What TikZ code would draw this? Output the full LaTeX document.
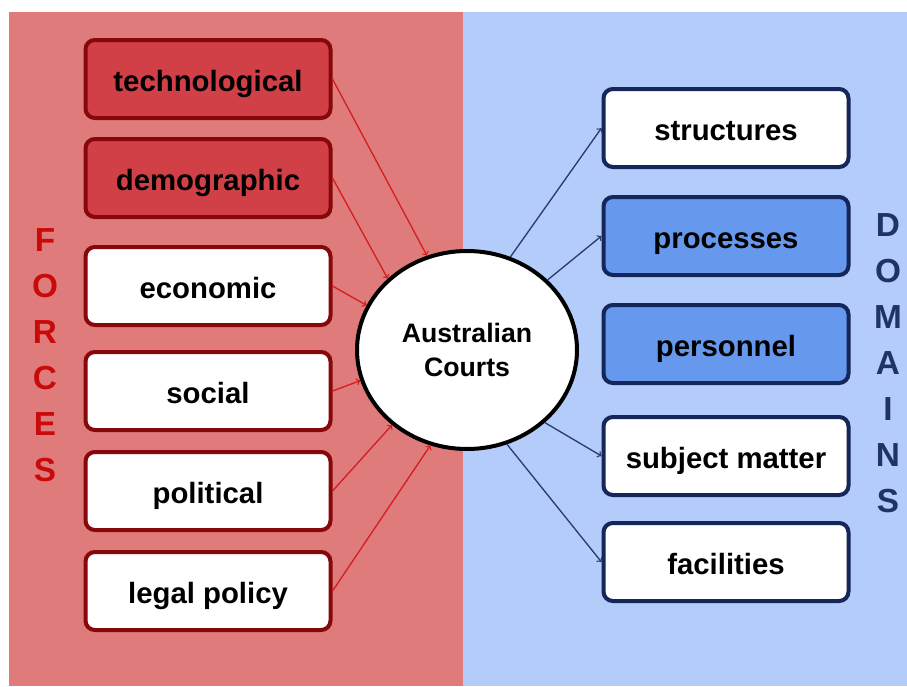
\documentclass[tikz,border=0pt]{standalone}
\usepackage{fontspec}
\setmainfont{Liberation Sans}
\usepackage{tikz}
\usetikzlibrary{shapes.geometric}
\usetikzlibrary{arrows,positioning}
\definecolor{forcebg}{RGB}{224,123,123}
\definecolor{forcefill}{RGB}{208,64,70}
\definecolor{forceline}{RGB}{135,8,10}
\definecolor{forcearrow}{RGB}{212,30,32}
\definecolor{forcetext}{RGB}{200,10,10}
\definecolor{domainbg}{RGB}{180,204,250}
\definecolor{domainfill}{RGB}{102,153,238}
\definecolor{domainline}{RGB}{20,38,90}
\definecolor{domainarrow}{RGB}{40,60,112}
\definecolor{domaintext}{RGB}{31,52,100}

\begin{document}
\begin{tikzpicture}[-,auto,x=0.75pt,y=-0.75pt]
\tikzstyle{factor}=[rectangle,rounded corners=7pt,draw=forceline,line width=3pt,fill=white,minimum width=183.75pt,minimum height=58.5pt,inner sep=0pt,text height=19pt,text depth=0pt,font=\fontsize{22}{26}\selectfont\bfseries]
\tikzstyle{area}=[factor,draw=domainline]
\tikzstyle{force}=[->,draw=forcearrow,line width=1pt]
\tikzstyle{reach}=[->,draw=domainarrow,line width=1pt]

\useasboundingbox (0,0) rectangle (907,686);
\fill [forcebg] (9,12) rectangle (463,686);
\fill [domainbg] (463,12) rectangle (907,686);

\node [ellipse,draw=black,line width=3pt,fill=white,minimum width=165pt,minimum height=148.5pt,inner sep=0pt,align=center,font=\fontsize{20}{25}\selectfont\bfseries] (court) at(467,350) {Australian\\Courts};

\node [factor] (tech) at(208,79)[fill=forcefill] {technological};
\node [factor] (demo) at(208,178)[fill=forcefill] {demographic};
\node [factor] (econ) at(208,286) {economic};
\node [factor] (soc) at(208,391) {social};
\node [factor] (pol) at(208,491) {political};
\node [factor] (legal) at(208,591) {legal policy};

\node [area] (struct) at(726,128) {structures};
\node [area] (proc) at(726,236)[fill=domainfill] {processes};
\node [area] (pers) at(726,344)[fill=domainfill] {personnel};
\node [area] (subj) at(726,456) {subject matter};
\node [area] (fac) at(726,562) {facilities};

\node [align=center,text=forcetext,font=\fontsize{25}{34.5}\selectfont\bfseries] (forces) at(45,355) {F\\O\\R\\C\\E\\S};
\node [align=center,text=domaintext,font=\fontsize{25}{34.5}\selectfont\bfseries] (domains) at(888,363) {D\\O\\M\\A\\I\\N\\S};

\path (tech.east) edge[force] (court.113);
\path (demo.east) edge[force] (court.138);
\path (econ.east) edge[force] (court.156);
\path (soc.east) edge[force] (court.196);
\path (pol.east) edge[force] (court.225);
\path (legal.east) edge[force] (court.249);
\path (court.65) edge[reach] (struct.west);
\path (court.41) edge[reach] (proc.west);
\path (court.317) edge[reach] (subj.west);
\path (court.293) edge[reach] (fac.west);
\end{tikzpicture}
\end{document}
